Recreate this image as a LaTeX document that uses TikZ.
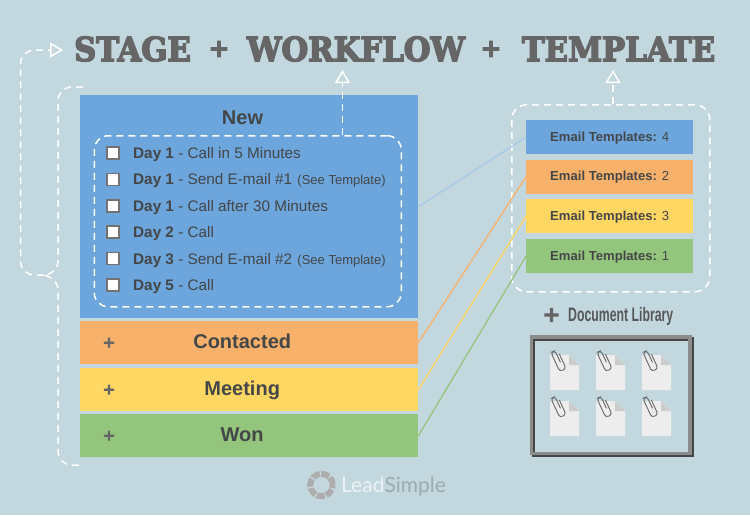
\documentclass[tikz,border=0pt]{standalone}
\usepackage{fontspec}
\setmainfont{Liberation Sans}
\newfontfamily\titlefont[BoldFeatures={FakeBold=4.5}]{DejaVu Serif}
\newfontfamily\logofont{Lato}
\usetikzlibrary{calc,positioning,arrows.meta}
\definecolor{bgcol}{HTML}{C3D7DE}
\definecolor{bluecol}{HTML}{6CA6DC}
\definecolor{orangecol}{HTML}{F7B16A}
\definecolor{yellowcol}{HTML}{FFD762}
\definecolor{greencol}{HTML}{94C57C}
\definecolor{inkcol}{HTML}{444648}
\definecolor{titlecol}{HTML}{666666}
\tikzset{
  stagefont/.style={inner sep=0pt,font=\fontsize{20}{20}\selectfont\bfseries,text=inkcol,text height=14.4pt,text depth=2pt},
  stagebox/.style={anchor=north west,minimum width=338pt,minimum height=43pt,inner sep=0pt},
  tplbox/.style={anchor=north west,minimum width=167pt,minimum height=34pt,inner sep=0pt,font=\fontsize{13.1}{14}\selectfont,text=inkcol,text height=7.6pt,text depth=0pt},
  titletxt/.style={inner sep=0pt,anchor=base,font=\fontsize{33}{33}\selectfont\titlefont\bfseries,text=titlecol,xscale=.93},
  titleplus/.style={inner sep=0pt,font=\fontsize{25}{25}\selectfont\titlefont\bfseries,text=titlecol},
  plusmark/.style={inner sep=0pt,font=\fontsize{15}{15}\selectfont\titlefont\bfseries,text=titlecol},
  dashline/.style={white,line width=1.5pt,dash pattern=on 7pt off 5pt},
  dashtip/.style={dashline,-{Triangle[open,length=13pt,width=15pt,fill=bgcol,line width=1.5pt]}},
  checkbox/.style={draw=black!55,fill=white,line width=1.6pt,minimum size=12pt,inner sep=0pt},
  tasktxt/.style={anchor=base west,inner sep=0pt,font=\fontsize{15.3}{16}\selectfont,text=inkcol},
  linkline/.style={line width=1.3pt}
}
\newcommand{\seetpl}{{\fontsize{13}{13}\selectfont\hspace{1pt}(See Template)}}
\begin{document}
\begin{tikzpicture}[x=1pt,y=-1pt]
\useasboundingbox (0,0) rectangle (750,515);
\fill [bgcol] (0,0) rectangle (750,515);

% title
\node [titletxt] (stage) at (132.5,61) {STAGE};
\node [titleplus] (plusa) at (219,49) {+};
\node [titletxt] (workflow) at (356,61) {WORKFLOW};
\node [titleplus] (plusb) at (491,49) {+};
\node [titletxt] (template) at (618.5,61) {TEMPLATE};

% stages
\node [stagebox,fill=bluecol,minimum height=223pt] (new) at (80,95) {};
\node [stagefont] (newlabel) at (242.5,118) {New};
\node [stagebox,fill=orangecol] (contacted) at (80,321) {};
\node [stagebox,fill=yellowcol] (meeting) at (80,368) {};
\node [stagebox,fill=greencol] (won) at (80,414) {};
\foreach \st/\txt in {contacted/Contacted,meeting/Meeting,won/Won} {
  \node [stagefont] (label\st) at ($(\st.center)+(-7,0)$) {\txt};
  \node [plusmark] (plus\st) at ($(\st.west)+(29,0)$) {+};
}

% task list
\node [draw=white,line width=1.5pt,dash pattern=on 7pt off 5pt,rounded corners=14pt,anchor=north west,minimum width=307pt,minimum height=171pt,inner sep=0pt] (tasks) at (93.5,135) {};
\foreach \i/\y/\txt in {1/153/{\textbf{Day 1} - Call in 5 Minutes},
    2/179.4/{\textbf{Day 1} - Send E-mail \#1 \seetpl},
    3/205.8/{\textbf{Day 1} - Call after 30 Minutes},
    4/232.2/{\textbf{Day 2} - Call},
    5/258.6/{\textbf{Day 3} - Send E-mail \#2 \seetpl},
    6/285/{\textbf{Day 5} - Call}} {
  \node [checkbox] (box\i) at (113,\y) {};
  \node [tasktxt] (task\i) at (133,\y+5.4) {\txt};
}

% templates
\node [tplbox,fill=bluecol] (tpla) at (526,120) {\textbf{Email Templates:} 4};
\node [tplbox,fill=orangecol] (tplb) at (526,159.5) {\textbf{Email Templates:} 2};
\node [tplbox,fill=yellowcol] (tplc) at (526,199) {\textbf{Email Templates:} 3};
\node [tplbox,fill=greencol] (tpld) at (526,239) {\textbf{Email Templates:} 1};
\node [draw=white,line width=1.5pt,dash pattern=on 7pt off 5pt,rounded corners=15pt,anchor=north west,minimum width=198pt,minimum height=187pt,inner sep=0pt] (tplgroup) at (511,104) {};

% links
\draw [linkline,bluecol!60!white] (new.east) -- (tpla.west);
\draw [linkline,orangecol] (contacted.east) -- (tplb.west);
\draw [linkline,yellowcol] (meeting.east) -- (tplc.west);
\draw [linkline,greencol] (won.east) -- (tpld.west);

% dashed arrows
\coordinate (wftip) at (342.5,70);
\coordinate (tptip) at (613,70);
\coordinate (sttip) at (63,50);
\coordinate (brace) at (44,275);
\draw [dashtip] (wftip |- tasks.north) -- (wftip);
\draw [dashtip] (tptip |- tplgroup.north) -- (tptip);
\draw [dashline] (83,87) -- (72,87) .. controls (64,87) and (58,93) .. (58,101) -- (58,262)
  .. controls (58,269) and (52,274) .. (brace) .. controls (52,277) and (58,282) .. (58,290)
  -- (58,451) .. controls (58,459) and (64,465) .. (72,465) -- (83,465);
\draw [dashtip,rounded corners=14pt] (brace) -- (20.5,275) -- (20.5,50) -- (sttip);

% document library
\node [inner sep=0pt,font=\fontsize{21}{21}\selectfont\titlefont\bfseries,text=titlecol] (libplus) at (551.5,315) {+};
\node [inner sep=0pt,anchor=west,xscale=.63,font=\fontsize{19.5}{20}\selectfont\bfseries,text=inkcol!90!white] (liblabel) at (568,316) {Document Library};
\draw [inkcol,line width=3.5pt] (533.5,339) rectangle (692,455.5);
\draw [black!45,line width=3.5pt] (531.5,337) rectangle (690,453.5);
\foreach \cx in {550,596,642}
  \foreach \cy in {355,401} {
    \fill [black!7] (\cx,\cy) -- ++(19,0) -- ++(10,10) -- ++(0,25) -- ++(-29,0) -- cycle;
    \fill [black!20] (\cx+19,\cy) -- ++(10,10) -- ++(-10,0) -- cycle;
    \draw [black!60,line width=.9pt,rounded corners=3pt,rotate around={25:(\cx+8.5,\cy+5.5)}]
      (\cx+9.5,\cy+8) -- (\cx+9.5,\cy-5) -- (\cx+5,\cy-5) -- (\cx+5,\cy+16) -- (\cx+12,\cy+16) -- (\cx+12,\cy);
  }

% logo
\node [draw=black!32,line width=6pt,circle,minimum size=22.5pt,inner sep=0pt,dash pattern=on 8pt off 1.6pt] (logoring) at (321.5,485) {};
\node [inner sep=0pt,anchor=base west,font=\fontsize{21}{21}\selectfont\logofont] (logotxt) at (341,492.5) {\textcolor{bgcol!30!white}{Lead}\textcolor{black!20!bgcol}{Simple}};
\end{tikzpicture}
\end{document}
